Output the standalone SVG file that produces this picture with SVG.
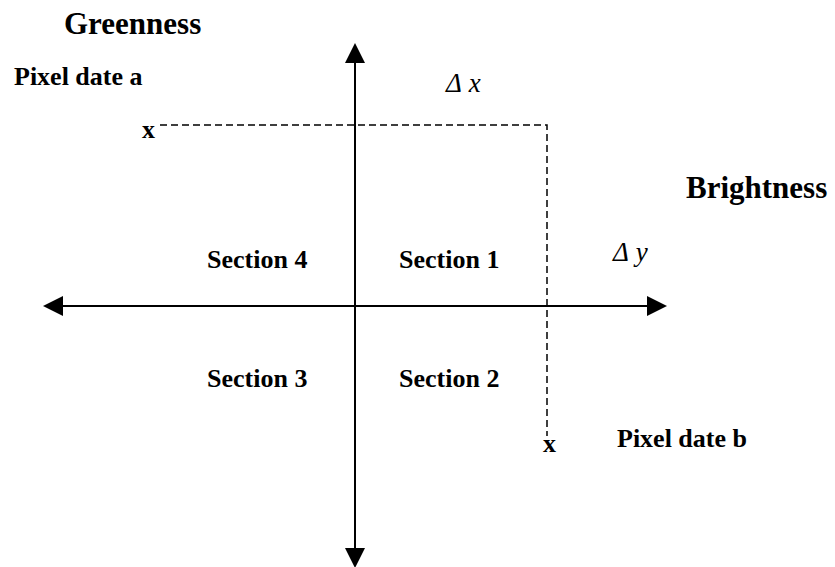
<svg xmlns="http://www.w3.org/2000/svg" width="835" height="567" viewBox="0 0 835 567">
<style>
  text { font-family: "Liberation Serif", "Times New Roman", serif; fill: #000; }
  .b { font-weight: bold; }
  .title { font-size: 31px; }
  .lab { font-size: 26px; }
  .delta { font-style: italic; font-size: 27px; }
  .axis { stroke: #000; stroke-width: 2; fill: none; }
  .dash { stroke: #000; stroke-width: 1.5; fill: none; stroke-dasharray: 7 4; }
</style>
<defs>
  <marker id="arr" markerUnits="userSpaceOnUse" viewBox="0 0 20 20" markerWidth="20" markerHeight="20" refX="0" refY="10" orient="auto-start-reverse">
    <path d="M0,0 L20,10 L0,20 z" fill="#000"/>
  </marker>
</defs>
<g id="connectors">
  <line class="axis" x1="355" y1="63" x2="355" y2="548" marker-start="url(#arr)" marker-end="url(#arr)"/>
  <line class="axis" x1="63" y1="306" x2="647" y2="306" marker-start="url(#arr)" marker-end="url(#arr)"/>
  <polyline class="dash" points="160,125 547,125 547,436"/>
</g>
<g id="greenness"><text class="b title" x="64" y="34">Greenness</text></g>
<g id="brightness"><text class="b title" x="686" y="198">Brightness</text></g>
<g id="pixel-a">
  <text class="b lab" x="14" y="85">Pixel date a</text>
  <text class="b lab" x="142" y="138">x</text>
</g>
<g id="pixel-b">
  <text class="b lab" x="543" y="452">x</text>
  <text class="b lab" x="617" y="447">Pixel date b</text>
</g>
<g id="delta-x"><text class="delta" x="446" y="92">Δ<tspan dx="7">x</tspan></text></g>
<g id="delta-y"><text class="delta" x="613" y="261">Δ<tspan dx="7">y</tspan></text></g>
<g id="section1"><text class="b lab" x="399" y="268">Section 1</text></g>
<g id="section2"><text class="b lab" x="399" y="387">Section 2</text></g>
<g id="section3"><text class="b lab" x="207" y="387">Section 3</text></g>
<g id="section4"><text class="b lab" x="207" y="268">Section 4</text></g>
</svg>
